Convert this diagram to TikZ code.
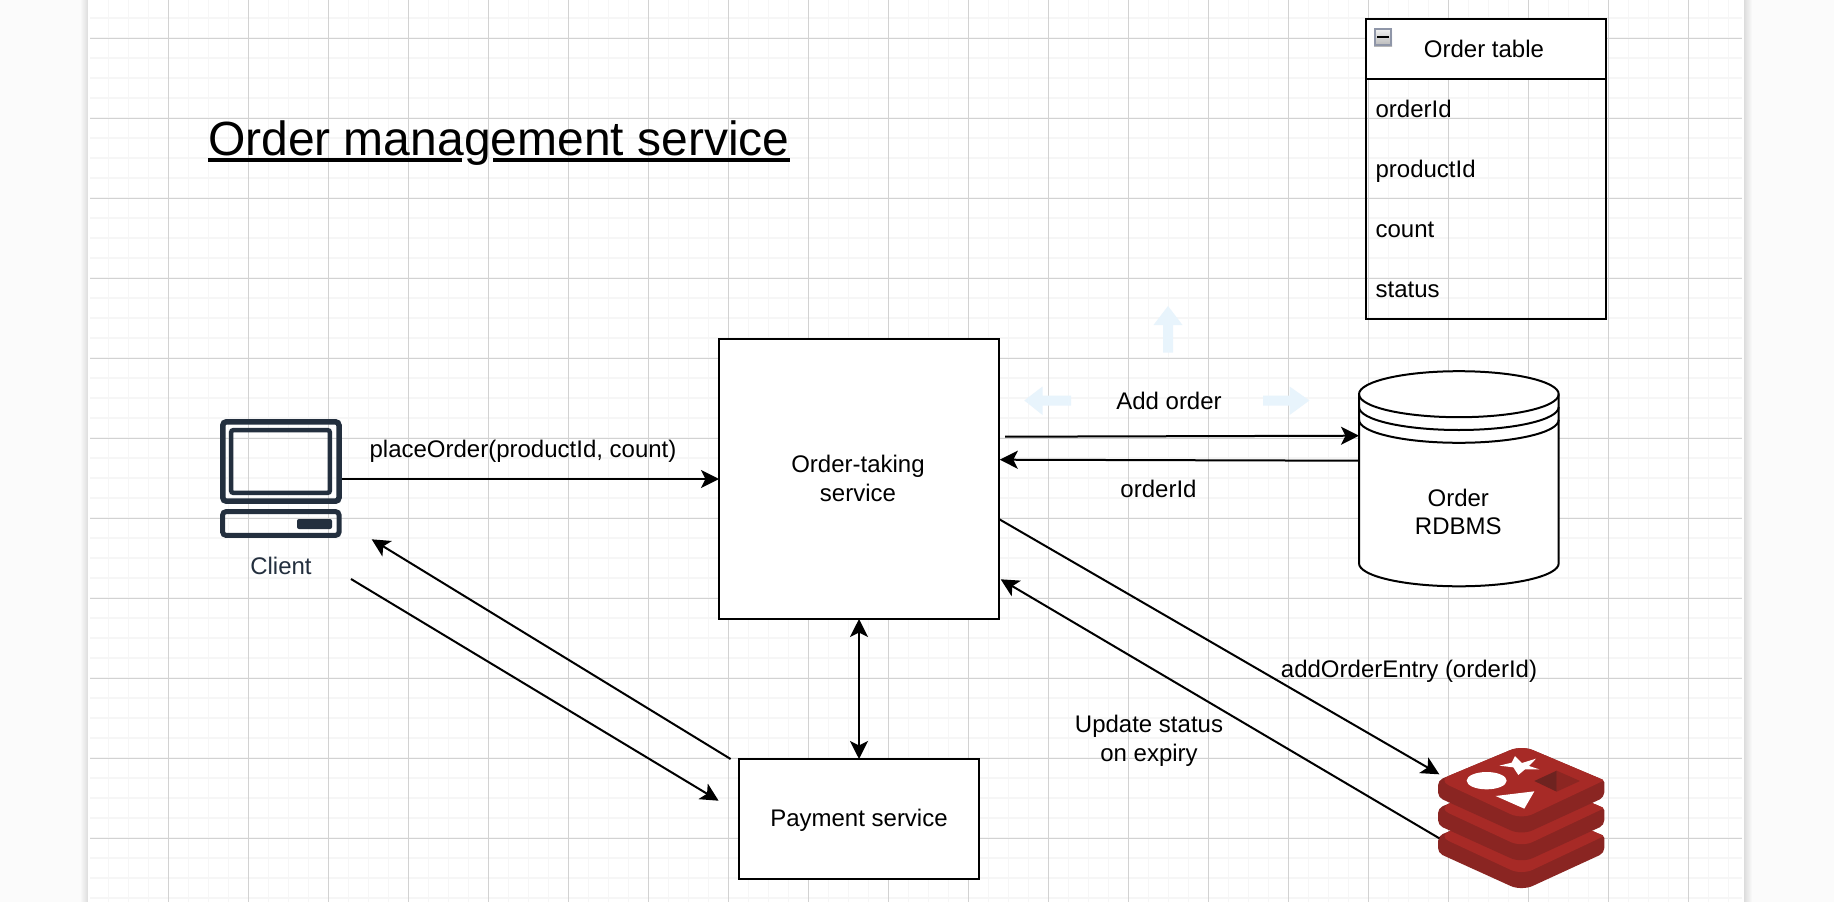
\documentclass[tikz,border=0pt]{standalone}
\usepackage{fontspec}
\setmainfont{Liberation Sans}
\usetikzlibrary{arrows.meta,shapes.geometric}
\definecolor{outside}{HTML}{FBFBFB}
\definecolor{edgeshade}{HTML}{DCDCDC}
\definecolor{gridmajor}{HTML}{D2D2D2}
\definecolor{gridminor}{HTML}{F6F6F6}
\definecolor{awsdark}{HTML}{232F3E}
\definecolor{hintblue}{HTML}{E8F4FC}
\definecolor{redistop}{HTML}{A72A26}
\definecolor{redisside}{HTML}{8A2522}
\definecolor{redisdark}{HTML}{6E2320}
\definecolor{redismid}{HTML}{8C2622}
\definecolor{iconedge}{HTML}{8F96A8}
\tikzset{
  lbl/.style={font=\fontsize{24}{28.8}\selectfont,inner sep=0pt,outer sep=0pt,anchor=base,text=black},
  lblw/.style={lbl,anchor=base west},
  boxed/.style={draw=black,line width=2pt,fill=white,inner sep=0pt,outer sep=0pt,
     font=\fontsize{24}{28.8}\selectfont,align=center},
  ghost/.style={inner sep=0pt,outer sep=0pt},
  conn/.style={draw=black,line width=2pt,-{Stealth[length=18pt,width=18pt,inset=4.5pt]}},
  conntwo/.style={draw=black,line width=2pt,{Stealth[length=18pt,width=18pt,inset=4.5pt]}-{Stealth[length=18pt,width=18pt,inset=4.5pt]}},
  hint/.style={fill=hintblue,draw=none},
  icon/.style={draw=awsdark,rounded corners=3.5pt,fill=none},
}
\begin{document}
\begin{tikzpicture}[x=1pt,y=-1pt]
\useasboundingbox (0,0) rectangle (1834,902);
% surroundings and page
\fill[outside] (0,0) rectangle (1834,902);
\shade[left color=outside,right color=edgeshade] (80,0) rectangle (88,902);
\shade[left color=edgeshade,right color=outside] (1744,0) rectangle (1752,902);
\fill[white] (88,0) rectangle (1744,902);
% grid
\begin{scope}[line width=1.7pt,gridminor]
  \foreach \gx in {108,128,...,1728} \draw (\gx+.5,0) -- (\gx+.5,902);
  \foreach \gy in {18,38,...,898} \draw (90,\gy) -- (1742,\gy);
\end{scope}
\begin{scope}[line width=1pt,gridmajor]
  \foreach \gx in {168,248,...,1688} \draw (\gx+.5,0) -- (\gx+.5,902);
  \foreach \gy in {38,118,...,838} \draw (90,\gy) -- (1742,\gy);
\end{scope}
% title
\node[lblw,font=\fontsize{48}{56}\selectfont] (title) at (208,155) {Order management service};
\fill[black] (208,158.2) rectangle (462,161.8);
\fill[black] (492.5,158.2) rectangle (790,161.8);
% order table
\node[boxed,minimum width=240.2pt,minimum height=60pt] (tablehead) at (1485.8,49) {};
\draw[line width=2pt,black] (1365.7,19) rectangle (1605.9,319);
\node[lbl] (tabletitle) at (1484,57.5) {Order table};
\shade[top color=white!92!gray,bottom color=black!28] (1374,28) rectangle (1392,46);
\draw[iconedge,line width=2pt] (1375,29) rectangle (1391,45);
\draw[black,line width=2pt] (1377,36.7) -- (1389,36.7);
\node[lblw] (row1) at (1375.6,117.7) {orderId};
\node[lblw] (row2) at (1375.6,177.7) {productId};
\node[lblw] (row3) at (1375.6,237.7) {count};
\node[lblw] (row4) at (1375.6,297.7) {status};
% hint arrows
\fill[hint] (1168,306) -- (1182.5,325) -- (1173,325) -- (1173,352.7) -- (1163,352.7) -- (1163,325) -- (1153.5,325) -- cycle;
\fill[hint] (1024.3,400.5) -- (1042.5,386.5) -- (1042.5,395.5) -- (1071,395.5) -- (1071,405.5) -- (1042.5,405.5) -- (1042.5,415) -- cycle;
\fill[hint] (1309.4,400.5) -- (1289.6,386.5) -- (1289.6,395.5) -- (1263,395.5) -- (1263,405.5) -- (1289.6,405.5) -- (1289.6,415) -- cycle;
% service boxes
\node[boxed,minimum width=280pt,minimum height=280pt] (order) at (859,479) {};
\node[lbl,align=center] (ordertext) at (858,501) {Order-taking\\service};
\node[boxed,minimum width=240pt,minimum height=120pt] (payment) at (859,819) {};
\node[lbl] (paymenttext) at (859,826.7) {Payment service};
% database
\node[ghost,minimum width=199.7pt,minimum height=215pt] (db) at (1458.85,478.8) {};
\filldraw[fill=white,draw=black,line width=2pt]
  (1359,394.2) .. controls (1359,381.5) and (1403.7,371.2) .. (1458.85,371.2)
  .. controls (1514,371.2) and (1558.7,381.5) .. (1558.7,394.2)
  -- (1558.7,563.3) .. controls (1558.7,576) and (1514,586.3) .. (1458.85,586.3)
  .. controls (1403.7,586.3) and (1359,576) .. (1359,563.3) -- cycle;
\foreach \cy in {394.2,407,419.8}
  \draw[black,line width=2pt] (1359,\cy) .. controls (1359,\cy+12.7) and (1403.7,\cy+23) .. (1458.85,\cy+23)
    .. controls (1514,\cy+23) and (1558.7,\cy+12.7) .. (1558.7,\cy);
\node[lbl,align=center] (dbtext) at (1458.3,534.5) {Order\\[-0.6pt]RDBMS};
% client icon
\node[ghost,minimum width=122pt,minimum height=119pt] (client) at (281,478.5) {};
\draw[icon,line width=5.5pt] (222.8,421.8) rectangle (339,501.2);
\draw[icon,line width=4.5pt,rounded corners=2pt] (231.2,430.2) rectangle (329.8,492.8);
\draw[icon,line width=5pt] (222.6,511.6) rectangle (339.1,535.4);
\fill[awsdark,rounded corners=2pt] (297,519) rectangle (332,529);
\node[lbl,text=awsdark] (clientlabel) at (281,574) {Client};
% redis icon
\node[ghost,minimum width=166pt,minimum height=140pt] (redis) at (1521.5,818) {};
\begin{scope}[shift={(1400,730)},x=0.3333pt,y=-0.3333pt]
  \foreach \ly in {167,83.5,0} {
    \fill[redisside]
      [rounded corners=2pt] (114,151+\ly)
      [rounded corners=12pt] -- (365,46+\ly)
      [rounded corners=2pt] -- (613,151+\ly)
      [rounded corners=5pt] -- (613,202+\ly)
      [rounded corners=12pt] -- (365,316+\ly)
      [rounded corners=5pt] -- (114,202+\ly) -- cycle;
    \fill[redistop]
      [rounded corners=2pt] (114,151+\ly)
      [rounded corners=12pt] -- (365,46+\ly)
      [rounded corners=2pt] -- (613,151+\ly)
      [rounded corners=12pt] -- (365,268+\ly) -- cycle;
  }
  \fill[white] (260,152) ellipse [x radius=60,y radius=26];
  \fill[white] (345,78) -- (366,99) -- (408,86) -- (387,108) -- (418,118) -- (375,118) -- (355,135) -- (340,112) -- (298,107) -- (335,98) -- cycle;
  \fill[white] (287,198) -- (403,184) -- (373,236) -- cycle;
  \fill[redismid] (470,122) -- (540,153) -- (470,185) -- cycle;
  \fill[redisdark] (470,122) -- (403,153) -- (470,185) -- cycle;
\end{scope}
% free connector ends
\coordinate (clienttip) at (371.7,539.3);
\coordinate (clienttail) at (351,579);
\coordinate (paytail) at (730.6,759);
\coordinate (paytip) at (718.6,800.7);
\coordinate (orderout) at (1005,436.7);
\coordinate (dbin) at (1359,435.7);
\coordinate (dbout) at (1359,460.7);
\coordinate (orderin) at (999.8,459.7);
\coordinate (orderdown) at (999.4,519.3);
\coordinate (redistip) at (1439.3,774.3);
\coordinate (redistail) at (1439.3,838.3);
\coordinate (orderup) at (1000.7,579.3);
% connectors
\draw[conn] (client.east |- order.west) -- (order.west);
\draw[conntwo] (order.south) -- (payment.north);
\draw[conn] (paytail) -- (clienttip);
\draw[conn] (clienttail) -- (paytip);
\draw[conn] (orderout) -- (dbin);
\draw[conn] (dbout) -- (orderin);
\draw[conn] (orderdown) -- (redistip);
\draw[conn] (redistail) -- (orderup);
% labels
\node[lbl] (lplace) at (523,457.7) {placeOrder(productId, count)};
\node[lbl] (ladd) at (1169,409.5) {Add order};
\node[lbl] (lid) at (1158.5,497.7) {orderId};
\node[lbl] (lentry) at (1409,677.7) {addOrderEntry (orderId)};
\node[lbl,align=center] (lupdate) at (1149,761.7) {Update status\\on expiry};
\end{tikzpicture}
\end{document}
